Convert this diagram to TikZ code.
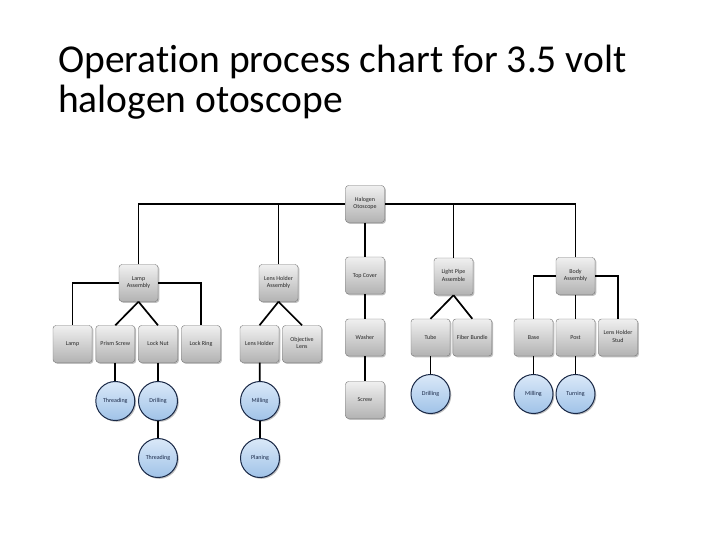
\documentclass[tikz,border=0pt]{standalone}
\usepackage{fontspec}
\setmainfont{Carlito}[Ligatures={NoCommon}]
\usetikzlibrary{shadows}
\definecolor{optop}{RGB}{218,232,248}
\definecolor{opbot}{RGB}{160,195,232}
\definecolor{opline}{RGB}{25,40,70}

\begin{document}
\begin{tikzpicture}[x=1pt,y=-1pt,
    part/.style={draw=black!55,rounded corners=3pt,top color=black!6,bottom color=black!30,
      minimum width=39pt,minimum height=37pt,inner sep=1pt,align=center,
      font=\fontsize{6}{7.5}\selectfont,text=black!85,
      execute at begin node=\strut,execute at end node=\strut,
      drop shadow={shadow xshift=1.3pt,shadow yshift=-1.3pt,opacity=.5}},
    oper/.style={circle,draw=opline,line width=1pt,top color=optop,bottom color=opbot,
      minimum size=39pt,inner sep=0pt,align=center,
      font=\fontsize{6}{7.5}\selectfont,text=opline,
      execute at begin node=\strut,execute at end node=\strut,
      drop shadow={shadow xshift=1.3pt,shadow yshift=-1.3pt,opacity=.5}},
    link/.style={line width=1.7pt}]
    \useasboundingbox[fill=white] (0,0) rectangle (720,540);

    % title
    \node[anchor=base west,inner sep=0pt,font=\fontsize{39.5}{44}\selectfont] (title1) at (58,73) {Operation process chart for 3.5 volt};
    \node[anchor=base west,inner sep=0pt,font=\fontsize{39.5}{44}\selectfont] (title2) at (58,113) {halogen otoscope};

    % top level
    \node[part] (hal) at (365,204) {Halogen\\Otoscope};

    % assemblies
    \node[part] (lampasm) at (138.5,283) {Lamp\\Assembly};
    \node[part] (lensasm) at (278.5,283) {Lens Holder\\Assembly};
    \node[part] (top) at (365,275.5) {Top Cover};
    \node[part] (pipeasm) at (453.5,276.5) {Light Pipe\\Assemble};
    \node[part] (bodyasm) at (575.5,276) {Body\\Assembly};

    % parts
    \node[part] (lamp) at (72.5,344) {Lamp};
    \node[part] (prism) at (115.3,344) {Prism Screw};
    \node[part] (lnut) at (158,344) {Lock Nut};
    \node[part] (lring) at (201,344) {Lock Ring};
    \node[part] (lens) at (259.5,344) {Lens Holder};
    \node[part] (objlens) at (302,344) {Objective\\Lens};
    \node[part] (washer) at (365,337.5) {Washer};
    \node[part] (screw) at (365,400) {Screw};
    \node[part] (tube) at (430.5,337.5) {Tube};
    \node[part] (fiber) at (472.3,337.5) {Fiber Bundle};
    \node[part] (base) at (533.5,337.5) {Base};
    \node[part] (post) at (575.5,337.5) {Post};
    \node[part] (stud) at (618,337.5) {Lens Holder\\Stud};

    % operations
    \node[oper] (thread1) at (115.3,401) {Threading};
    \node[oper] (drill1) at (158,401) {Drilling};
    \node[oper] (thread2) at (158,458) {Threading};
    \node[oper] (mill1) at (260,401) {Milling};
    \node[oper] (plane) at (260,458) {Planing};
    \node[oper] (drill2) at (430.5,394) {Drilling};
    \node[oper] (mill2) at (533.5,394) {Milling};
    \node[oper] (turn) at (575.5,394) {Turning};

    % connectors
    \draw[link] (lampasm.north) |- (hal.west);
    \draw[link] (lensasm.north) |- (hal.west);
    \draw[link] (pipeasm.north) |- (hal.east);
    \draw[link] (bodyasm.north) |- (hal.east);
    \draw[link] (hal) -- (top);
    \draw[link] (top) -- (washer);
    \draw[link] (washer) -- (screw);

    \draw[link] (lampasm.west) -| (lamp.north);
    \draw[link] (lampasm.east) -| (lring.north);
    \draw[link] (lampasm.south) -- (prism.north);
    \draw[link] (lampasm.south) -- (lnut.north);
    \draw[link] (lensasm.south) -- (lens.north);
    \draw[link] (lensasm.south) -- (objlens.north);
    \draw[link] (pipeasm.south) -- (tube.north);
    \draw[link] (pipeasm.south) -- (fiber.north);
    \draw[link] (bodyasm.west) -| (base.north);
    \draw[link] (bodyasm.east) -| (stud.north);
    \draw[link] (bodyasm) -- (post);

    \draw[link] (prism) -- (thread1);
    \draw[link] (lnut) -- (drill1);
    \draw[link] (drill1) -- (thread2);
    \draw[link] (lens) -- (mill1);
    \draw[link] (mill1) -- (plane);
    \draw[link] (tube) -- (drill2);
    \draw[link] (base) -- (mill2);
    \draw[link] (post) -- (turn);
\end{tikzpicture}
\end{document}
